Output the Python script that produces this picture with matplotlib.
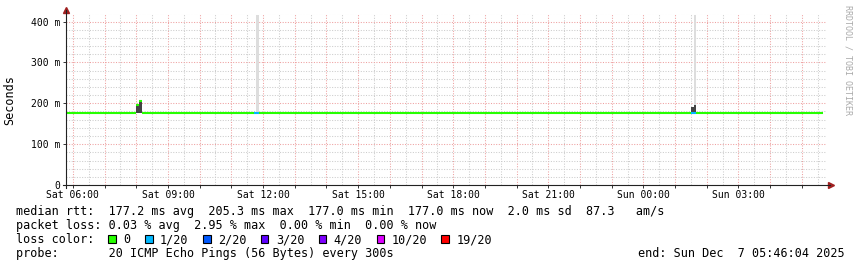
import numpy as np
import matplotlib
matplotlib.use('Agg')
import matplotlib.pyplot as plt
from matplotlib.patches import Rectangle
from matplotlib.ticker import MultipleLocator

# time in hours since Sat 00:00, rtt in ms
t_edges = [5.768, 8.0, 8.083, 8.167, 11.70, 11.783, 11.867, 25.50, 25.583, 25.667, 29.66]
median_ms = [177.0, 197.0, 205.3, 177.0, 177.0, 177.0, 177.0, 177.0, 177.0, 177.0]
smoke_ms = [177.0, 196.0, 205.0, 177.0, 177.0, 177.0, 177.0, 191.0, 196.0, 177.0]
spike_ms = [177.0, 177.0, 177.0, 177.0, 177.0, 416.0, 177.0, 177.0, 416.0, 177.0]
loss = [0, 0, 0, 0, 1, 1, 0, 1, 1, 0]

tick_hours = [6, 9, 12, 15, 18, 21, 24, 27]
tick_labels = ['Sat 06:00', 'Sat 09:00', 'Sat 12:00', 'Sat 15:00',
               'Sat 18:00', 'Sat 21:00', 'Sun 00:00', 'Sun 03:00']
ytick_vals = [0, 100, 200, 300, 400]
ytick_labels = ['0', '100 m', '200 m', '300 m', '400 m']

loss_levels = [0, 1, 2, 3, 4, 10, 19]
loss_names = ['0', '1/20', '2/20', '3/20', '4/20', '10/20', '19/20']
loss_colors = ['#26ff00', '#00b8ff', '#0059ff', '#5e00ff', '#7e00ff', '#dd00ff', '#ff0000']

median_line = 'median rtt:  177.2 ms avg  205.3 ms max  177.0 ms min  177.0 ms now  2.0 ms sd  87.3   am/s'
loss_line = 'packet loss: 0.03 % avg  2.95 % max  0.00 % min  0.00 % now'
probe_line = 'probe:       20 ICMP Echo Pings (56 Bytes) every 300s'
end_line = 'end: Sun Dec  7 05:46:04 2025'

plt.rcParams['font.family'] = 'DejaVu Sans Mono'

W, H = 857, 267
fig = plt.figure(figsize=(W / 100, H / 100), dpi=100)


def fx(x):
    return x / W


def fy(y):
    return 1 - y / H


ax = fig.add_axes([fx(65.5), fy(185), (826.2 - 65.5) / W, (185 - 13.5) / H])
ax.set_xlim(5.768, 29.768)
ax.set_ylim(0, 420)

# grid
ax.set_xticks(np.arange(6, 30), labels=[tick_labels[tick_hours.index(h)] if h in tick_hours else ''
                                         for h in range(6, 30)])
ax.xaxis.set_minor_locator(MultipleLocator(0.5))
ax.set_yticks(ytick_vals, labels=ytick_labels)
ax.yaxis.set_minor_locator(MultipleLocator(20))
ax.grid(which='minor', color='#cccccc', linestyle=(0, (1, 1.5)), linewidth=0.75)
ax.grid(which='major', color='#eea0a0', linestyle=(0, (1, 1.5)), linewidth=0.75)
ax.set_axisbelow(True)
ax.tick_params(which='both', labelsize=7, length=2.2, width=0.7, pad=1.5, color='#333333')
ax.tick_params(which='minor', length=0)
for s in ax.spines.values():
    s.set_visible(False)

# smoke and spikes
lefts = np.array(t_edges[:-1])
widths = np.diff(t_edges)
ax.bar(lefts, np.array(spike_ms) - np.array(median_ms), bottom=median_ms, width=widths,
       align='edge', color='#dddddd', linewidth=0, zorder=2)
ax.bar(lefts, np.array(smoke_ms) - 177.0, bottom=177.0, width=widths,
       align='edge', color='#444444', linewidth=0, zorder=3)

# median coloured by loss
for i in range(len(median_ms)):
    k = max(j for j, lv in enumerate(loss_levels) if loss[i] >= lv)
    ax.hlines(median_ms[i], t_edges[i], t_edges[i + 1], color=loss_colors[k],
              linewidth=1.5, zorder=4)

# axis lines with arrows
ax.plot([-0.003, 1.005], [0, 0], transform=ax.transAxes, color='#222222', lw=0.8, clip_on=False, zorder=5)
ax.plot([0, 0], [-0.015, 1.02], transform=ax.transAxes, color='#222222', lw=0.8, clip_on=False, zorder=5)
ax.plot([1.006], [0], marker='>', markersize=4, color='#a02020', transform=ax.transAxes, clip_on=False)
ax.plot([0], [1.022], marker='^', markersize=4, color='#a02020', transform=ax.transAxes, clip_on=False)

fig.text(fx(10), fy(99.7), 'Seconds', rotation=90, ha='center', va='center', fontsize=8.5)
fig.text(fx(848), fy(60), 'RRDTOOL / TOBI OETIKER', rotation=270, ha='center', va='center',
         fontsize=6, color='#aaaaaa')

# legend
fs = 8.5
cw = 7.1
fig.text(fx(16), fy(215.3), median_line, fontsize=fs, va='baseline')
fig.text(fx(16), fy(229.3), loss_line, fontsize=fs, va='baseline')
fig.text(fx(16), fy(243.3), 'loss color:', fontsize=fs, va='baseline')
fig.text(fx(16), fy(257.3), probe_line, fontsize=fs, va='baseline')
fig.text(fx(637.5), fy(257.3), end_line, fontsize=fs, va='baseline')

x = 108.3
for name, col in zip(loss_names, loss_colors):
    fig.patches.append(Rectangle((fx(x), fy(242.7)), 7.7 / W, 7.7 / H, transform=fig.transFigure,
                                 facecolor=col, edgecolor='black', linewidth=0.8))
    fig.text(fx(x + 15), fy(243.3), name, fontsize=fs, va='baseline')
    x = x + 15 + len(name) * cw + 14.5

fig.savefig('out.png', dpi=100)
